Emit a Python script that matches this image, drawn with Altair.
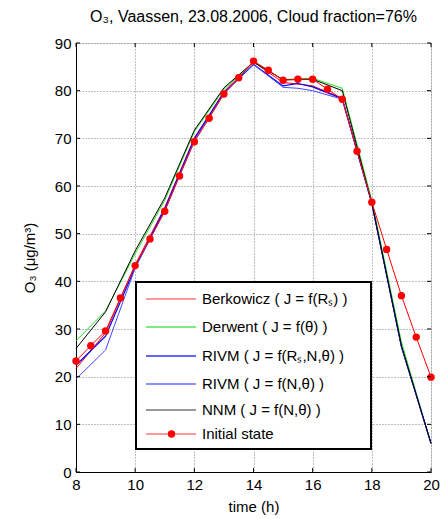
import altair as alt
import pandas as pd

# ---------------- data ----------------
t_init = [8, 8.5, 9, 9.5, 10, 10.5, 11, 11.5, 12, 12.5, 13, 13.5, 14,
          14.5, 15, 15.5, 16, 16.5, 17, 17.5, 18, 18.5, 19, 19.5, 20]
initial_state = [23.3, 26.5, 29.6, 36.5, 43.3, 48.9, 54.7, 62.1, 69.3, 74.2, 79.3, 82.7, 86.2,
                 84.3, 82.2, 82.4, 82.4, 80.3, 78.2, 67.3, 56.6, 46.7, 37.0, 28.3, 19.9]

t_model = [8, 9, 10, 11, 12, 13, 14, 15, 15.5, 16, 17, 18, 19, 20]
berkowicz = [21.7, 29.2, 43.5, 55.5, 70.1, 79.8, 86.0, 81.7, 81.4, 81.0, 78.4, 56.3, 26.3, 6.0]
derwent   = [27.5, 33.8, 45.8, 57.0, 71.4, 80.3, 86.0, 82.3, 82.5, 82.6, 80.5, 57.0, 27.3, 6.0]
rivm_rs   = [22.4, 28.5, 42.9, 55.2, 69.9, 79.6, 85.5, 81.0, 81.5, 80.8, 78.3, 56.4, 26.3, 6.0]
rivm_n    = [19.5, 25.6, 42.8, 54.8, 69.6, 79.4, 85.5, 80.7, 80.5, 80.0, 78.2, 56.3, 26.3, 6.0]
nnm       = [25.9, 33.6, 46.4, 57.5, 71.7, 80.6, 86.0, 82.3, 82.3, 82.4, 80.0, 56.4, 26.5, 6.0]

legend_labels = ["Berkowicz ( J = f(R\u209b) )", "Derwent ( J = f(\u03b8) )",
                 "RIVM ( J = f(R\u209b,N,\u03b8) )", "RIVM ( J = f(N,\u03b8) )",
                 "NNM ( J = f(N,\u03b8) )", "Initial state"]
x_ticks = [8, 10, 12, 14, 16, 18, 20]
y_ticks = [0, 10, 20, 30, 40, 50, 60, 70, 80, 90]

# ---------------- styling / layout ----------------
FONT = "Liberation Sans"
W, H = 355, 429
RED, GREEN, BLUE, LBLUE, BLACK = "#ff0000", "#22e022", "#0000ff", "#4646ff", "#000000"

xs = alt.Scale(domain=[8, 20], nice=False, zero=False)
ys = alt.Scale(domain=[0, 90], nice=False, zero=False)

common_axis = dict(grid=True, gridDash=[1, 2], gridColor="#808080", gridWidth=1,
                   ticks=False, domainColor="black", labelFont=FONT, labelFontSize=15,
                   labelColor="black", labelFlush=False, labelOverlap=False,
                   titleFont=FONT, titleFontSize=15, titleFontWeight="normal",
                   titleColor="black", format="d")
x_axis = alt.Axis(values=x_ticks, title="time (h)", labelPadding=5, titlePadding=7, **common_axis)
y_axis = alt.Axis(values=y_ticks, title="O\u2083 (\u03bcg/m\u00b3)", labelPadding=5,
                  titlePadding=17, **common_axis)


def series(t, v, color, width):
    df = pd.DataFrame({"t": t, "v": v})
    return alt.Chart(df).mark_line(color=color, strokeWidth=width).encode(
        x=alt.X("t:Q", scale=xs, axis=x_axis),
        y=alt.Y("v:Q", scale=ys, axis=y_axis),
    )


layers = [
    series(t_model, berkowicz, RED, 1),
    series(t_model, derwent, GREEN, 1),
    series(t_model, rivm_rs, BLUE, 1.2),
    series(t_model, rivm_n, LBLUE, 1),
    series(t_model, nnm, BLACK, 1),
]

init_df = pd.DataFrame({"t": t_init, "v": initial_state})
layers.append(alt.Chart(init_df).mark_line(color=RED, strokeWidth=1).encode(
    x=alt.X("t:Q", scale=xs, axis=x_axis), y=alt.Y("v:Q", scale=ys, axis=y_axis)))
layers.append(alt.Chart(init_df).mark_point(filled=True, color=RED, size=55, opacity=1).encode(
    x=alt.X("t:Q", scale=xs, axis=x_axis), y=alt.Y("v:Q", scale=ys, axis=y_axis)))

# inward ticks on all four sides
xt = pd.DataFrame({"t": x_ticks})
yt = pd.DataFrame({"v": y_ticks})
for y0, y1 in [(H, H - 4), (0, 4)]:
    layers.append(alt.Chart(xt).mark_rule(color="black", strokeWidth=1).encode(
        x=alt.X("t:Q", scale=xs, axis=x_axis), y=alt.value(y0), y2=alt.value(y1)))
for x0, x1 in [(0, 4), (W, W - 4)]:
    layers.append(alt.Chart(yt).mark_rule(color="black", strokeWidth=1).encode(
        y=alt.Y("v:Q", scale=ys, axis=y_axis), x=alt.value(x0), x2=alt.value(x1)))

# manual legend
one = pd.DataFrame({"k": [0]})
LX0, LX1, LY0, LY1 = 60, 295, 239, 406
layers.append(alt.Chart(one).mark_rect(fill="white", stroke="black", strokeWidth=2).encode(
    x=alt.value(LX0), x2=alt.value(LX1), y=alt.value(LY0), y2=alt.value(LY1)))
row_y = [256, 284, 313, 341, 367, 391]
styles = [(RED, 1), (GREEN, 1.6), (BLUE, 1.6), (LBLUE, 1.4), (BLACK, 1), (RED, 1)]
for lab, ry, (col, sw) in zip(legend_labels, row_y, styles):
    layers.append(alt.Chart(one).mark_rule(color=col, strokeWidth=sw, opacity=0.8).encode(
        x=alt.value(70), x2=alt.value(120), y=alt.value(ry)))
    layers.append(alt.Chart(one).mark_text(align="left", baseline="middle", font=FONT,
                                           fontSize=15, color="black").encode(
        x=alt.value(126), y=alt.value(ry), text=alt.value(lab)))
layers.append(alt.Chart(one).mark_point(filled=True, color=RED, size=55, opacity=1).encode(
    x=alt.value(95.5), y=alt.value(row_y[-1])))

chart = alt.layer(*layers).properties(
    width=W, height=H,
    autosize=alt.AutoSizeParams(type="none"),
    padding={"left": 76, "top": 43, "right": 11, "bottom": 47},
    title=alt.TitleParams(text="O\u2083, Vaassen, 23.08.2006, Cloud fraction=76%",
                          font=FONT, fontSize=16, fontWeight="normal", color="black",
                          anchor="middle", offset=11),
).configure_view(stroke="black", strokeWidth=1).configure(background="white")

chart.save("out.html", embed_options={"renderer": "svg", "actions": False})
